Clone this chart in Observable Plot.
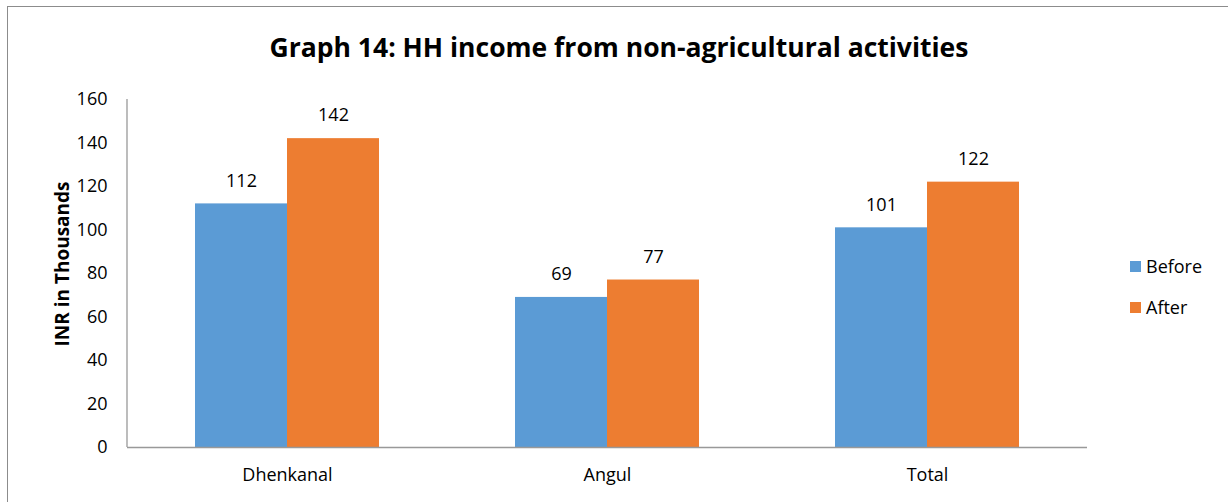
<!DOCTYPE html>
<html>
<head>
<meta charset="utf-8">
<script src="https://cdn.jsdelivr.net/npm/d3@7"></script>
<script src="https://cdn.jsdelivr.net/npm/@observablehq/plot@0.6"></script>
<style>
  body { margin: 0; background: #fff; }
  #wrap { position: relative; width: 1228px; height: 502px; overflow: hidden; background: #fff; font-family: "Open Sans", sans-serif; }
  #border { position: absolute; left: 7px; top: 6px; width: 1240px; height: 520px; border: 1px solid #8c8c8c; box-sizing: border-box; }
  #title { position: absolute; left: 0; width: 1238px; top: 29px; text-align: center; font-size: 26.5px; font-weight: bold; color: #000; line-height: 36px; }
  #ylabel { position: absolute; left: 62px; top: 264px; transform: translate(-50%, -50%) rotate(-90deg); font-size: 19px; font-weight: bold; white-space: nowrap; color: #000; }
  #legend { position: absolute; left: 1130px; top: 254px; font-size: 18px; color: #000; }
  .li { display: flex; align-items: center; height: 24px; margin-bottom: 17px; }
  .sw { width: 11px; height: 11px; margin-right: 5px; }
  #chart { position: absolute; left: 0; top: 0; }
</style>
</head>
<body>
<div id="wrap">
  <div id="border"></div>
  <div id="chart"></div>
  <div id="title">Graph 14: HH income from non-agricultural activities</div>
  <div id="ylabel">INR in Thousands</div>
  <div id="legend"></div>
</div>
<script>
const categories = ["Dhenkanal", "Angul", "Total"];
const seriesNames = ["Before", "After"];
const beforeValues = [112, 69, 101];
const afterValues = [142, 77, 122];
const yTicks = [0, 20, 40, 60, 80, 100, 120, 140, 160];
const colors = ["#5B9BD5", "#ED7D31"];

const rows = [];
categories.forEach((c, i) => {
  rows.push({cat: c, series: "Before", value: beforeValues[i]});
  rows.push({cat: c, series: "After", value: afterValues[i]});
});

const font = "'Open Sans', sans-serif";
const chart = Plot.plot({
  width: 1228,
  height: 502,
  marginLeft: 127,
  marginRight: 141,
  marginTop: 99,
  marginBottom: 55,
  style: {fontFamily: font, fontSize: "18px", color: "#000", background: "transparent", overflow: "visible"},
  fx: {domain: categories, padding: 0, label: null},
  x: {domain: seriesNames, paddingInner: 0, paddingOuter: 0.739, axis: null},
  y: {domain: [0, 160], label: null},
  color: {domain: seriesNames, range: colors},
  marks: [
    Plot.axisY(yTicks, {tickSize: 0, tickPadding: 20, fontSize: 18, fill: "#000", label: null}),
    Plot.axisFx({anchor: "bottom", tickSize: 0, tickPadding: 21, fontSize: 18, fill: "#000", label: null}),
    Plot.barY(rows, {fx: "cat", x: "series", y: "value", fill: "series", inset: 0}),
    Plot.text(rows, {fx: "cat", x: "series", y: "value", text: d => String(d.value), dy: -23, fontSize: 18, fill: "#000"}),
    Plot.ruleY([0], {stroke: "#999", strokeWidth: 1.3})
  ]
});
document.getElementById("chart").appendChild(chart);

// left value-axis line, drawn from the plot's own y scale
const ys = chart.scale("y");
const svg = d3.select(chart.tagName === "svg" ? chart : chart.querySelector("svg"));
svg.append("line")
  .attr("x1", 127).attr("x2", 127)
  .attr("y1", ys.apply(160)).attr("y2", ys.apply(0))
  .attr("stroke", "#999").attr("stroke-width", 1.3);

const legend = d3.select("#legend");
seriesNames.forEach((s, i) => {
  const li = legend.append("div").attr("class", "li");
  li.append("div").attr("class", "sw").style("background", colors[i]);
  li.append("span").text(s);
});
</script>
</body>
</html>
